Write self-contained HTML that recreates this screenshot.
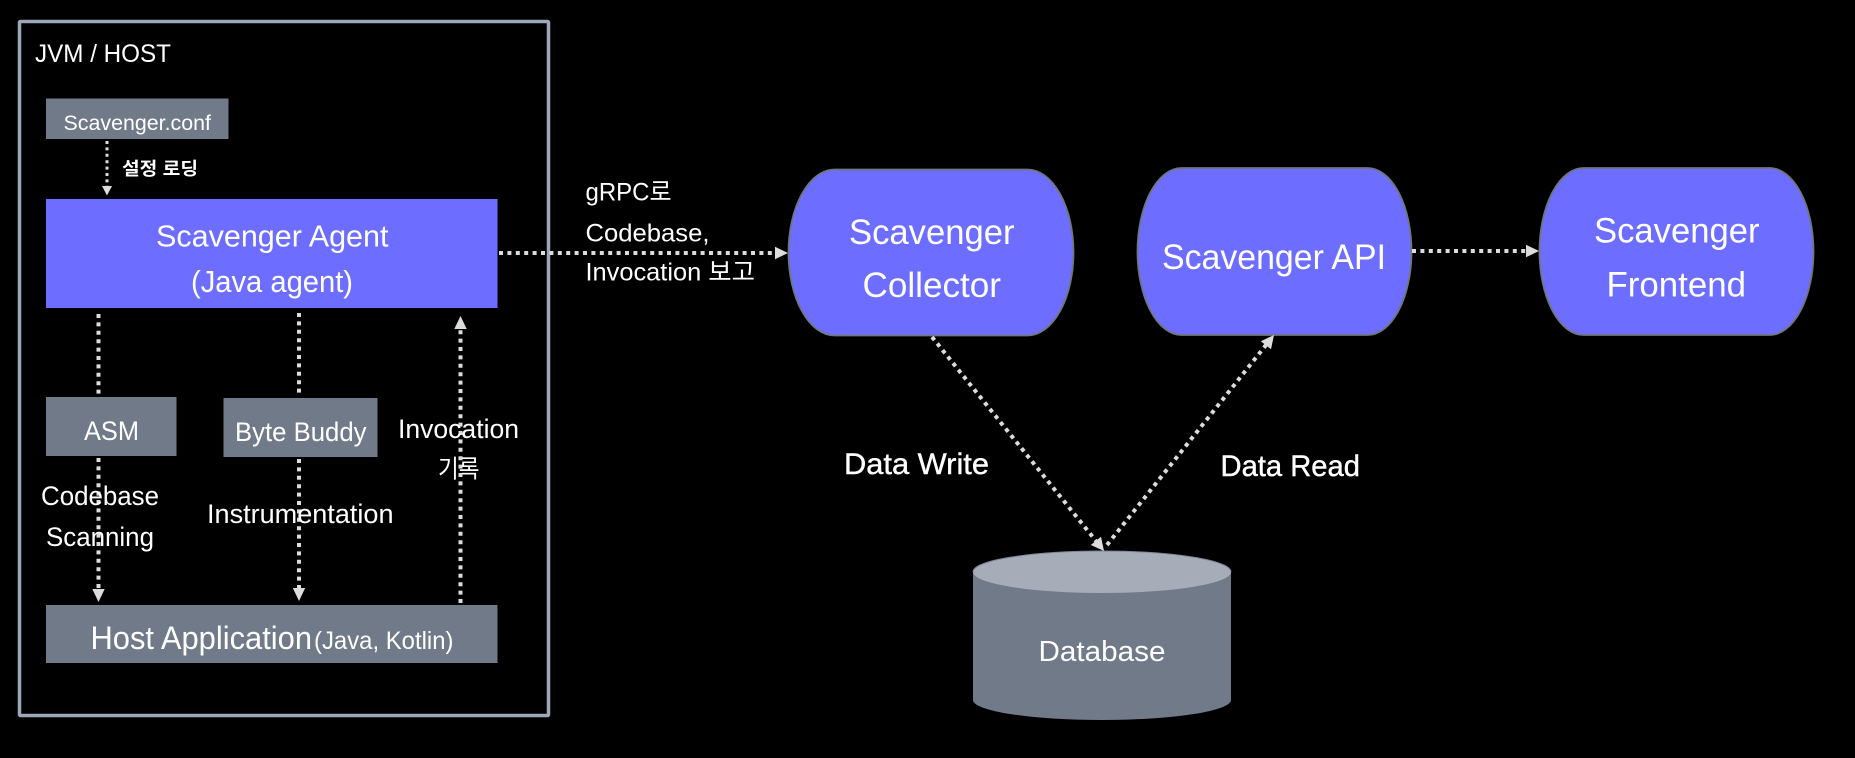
<!DOCTYPE html>
<html><head><meta charset="utf-8"><style>
html,body{margin:0;padding:0;background:#000;width:1855px;height:758px;overflow:hidden}
svg{display:block}
text{font-family:"Liberation Sans","Noto Sans CJK KR",sans-serif;fill:#fff}
.d{stroke:#dcdcdc;stroke-width:4;stroke-dasharray:4 4.4;fill:none}
.a{fill:#dcdcdc}
</style></head><body>
<svg width="1855" height="758" viewBox="0 0 1855 758" xmlns="http://www.w3.org/2000/svg">
<rect width="1855" height="758" fill="#000"/>
<rect x="19.5" y="21.5" width="529" height="694" fill="none" stroke="#9ca7b9" stroke-width="3.5" rx="1"/>
<rect x="46" y="98.500" width="182.500" height="40.500" fill="#707a89"/>
<rect x="46" y="199" width="451.500" height="109" fill="#6d6eff"/>
<rect x="46" y="397" width="130.500" height="59" fill="#707a89"/>
<rect x="223.500" y="398" width="154" height="59" fill="#707a89"/>
<rect x="46" y="605" width="451.500" height="58" fill="#707a89"/>
<rect x="788.500" y="169.500" width="285" height="166" rx="46" ry="83" fill="#6d6eff" stroke="#70767f" stroke-width="1.800"/>
<rect x="1137.500" y="168" width="274" height="167" rx="44" ry="83.500" fill="#6d6eff" stroke="#70767f" stroke-width="1.800"/>
<rect x="1539.500" y="168" width="274" height="167" rx="44" ry="83.500" fill="#6d6eff" stroke="#70767f" stroke-width="1.800"/>
<path d="M973 572 V700 A129 20 0 0 0 1231 700 V572 Z" fill="#707a89"/>
<ellipse cx="1102" cy="572" rx="129" ry="21" fill="#a6adb8"/>
<path d="M973 572 A129 21 0 0 1 1231 572" fill="none" stroke="#7c8698" stroke-width="1"/>

<path class="d" style="stroke-width:3;stroke-dasharray:3 3.400" d="M107 141V186"/>
<polygon class="a" points="102,186 112,186 107,195.500"/>
<path class="d" d="M98.500 314V395"/>
<path class="d" d="M98.500 458V591"/>
<polygon class="a" points="92.300,589 104.700,589 98.500,602"/>
<path class="d" d="M299 313V395"/>
<path class="d" d="M299 459V590"/>
<polygon class="a" points="292.800,588 305.200,588 299,601"/>
<path class="d" d="M460.500 603V329"/>
<polygon class="a" points="454.300,329 466.700,329 460.500,316"/>
<path class="d" d="M499 253H776"/>
<polygon class="a" points="775,246.700 775,259.300 788,253"/>
<path class="d" d="M1412 251H1527"/>
<polygon class="a" points="1526,244.700 1526,257.300 1539,251"/>
<path class="d" d="M932 337L1096 541"/>
<polygon class="a" points="1090.800,545 1101,536.800 1104,551"/>
<path class="d" d="M1107 545L1266 345"/>
<polygon class="a" points="1271,349.200 1260.800,341.200 1274,335"/>

<text x="35" y="62" font-size="25" textLength="136" lengthAdjust="spacingAndGlyphs">JVM / HOST</text>
<text x="63.500" y="130" font-size="21" textLength="147.500" lengthAdjust="spacingAndGlyphs">Scavenger.conf</text>
<text x="122" y="175" font-size="18" font-weight="700" textLength="76" lengthAdjust="spacingAndGlyphs">설정 로딩</text>
<text x="156" y="246.500" font-size="31" textLength="232.500" lengthAdjust="spacingAndGlyphs">Scavenger Agent</text>
<text x="191" y="292" font-size="31" textLength="162" lengthAdjust="spacingAndGlyphs">(Java agent)</text>
<text x="84" y="440" font-size="27" textLength="55" lengthAdjust="spacingAndGlyphs">ASM</text>
<text x="235" y="441" font-size="27" textLength="131.500" lengthAdjust="spacingAndGlyphs">Byte Buddy</text>
<text x="398" y="438" font-size="27" textLength="121" lengthAdjust="spacingAndGlyphs">Invocation</text>
<text x="438" y="477.500" font-size="25" textLength="41.500" lengthAdjust="spacingAndGlyphs">기록</text>
<text x="41" y="505" font-size="27" textLength="118" lengthAdjust="spacingAndGlyphs">Codebase</text>
<text x="46" y="546" font-size="27" textLength="108" lengthAdjust="spacingAndGlyphs">Scanning</text>
<text x="207" y="523" font-size="27" textLength="186.500" lengthAdjust="spacingAndGlyphs">Instrumentation</text>
<text x="90.500" y="649" font-size="32" textLength="221.500" lengthAdjust="spacingAndGlyphs">Host Application</text>
<text x="314" y="649" font-size="25" textLength="139.500" lengthAdjust="spacingAndGlyphs">(Java, Kotlin)</text>
<text x="585.500" y="200.500" font-size="25" textLength="86" lengthAdjust="spacingAndGlyphs">gRPC로</text>
<text x="585.500" y="241.500" font-size="25" textLength="124" lengthAdjust="spacingAndGlyphs">Codebase,</text>
<text x="585.500" y="280.500" font-size="25" textLength="169.500" lengthAdjust="spacingAndGlyphs">Invocation 보고</text>
<text x="849" y="244" font-size="35" textLength="165.500" lengthAdjust="spacingAndGlyphs">Scavenger</text>
<text x="862.500" y="297" font-size="35" textLength="138.500" lengthAdjust="spacingAndGlyphs">Collector</text>
<text x="1162" y="269" font-size="35" textLength="224" lengthAdjust="spacingAndGlyphs">Scavenger API</text>
<text x="1594" y="242.500" font-size="35" textLength="165.500" lengthAdjust="spacingAndGlyphs">Scavenger</text>
<text x="1606.500" y="296.500" font-size="35" textLength="139.500" lengthAdjust="spacingAndGlyphs">Frontend</text>
<text x="844" y="474" font-size="30" textLength="145" lengthAdjust="spacingAndGlyphs" stroke="#fff" stroke-width=".4">Data Write</text>
<text x="1220.500" y="476" font-size="30" textLength="139.500" lengthAdjust="spacingAndGlyphs" stroke="#fff" stroke-width=".4">Data Read</text>
<text x="1038.500" y="661" font-size="29" textLength="127" lengthAdjust="spacingAndGlyphs">Database</text>
</svg>
</body></html>
